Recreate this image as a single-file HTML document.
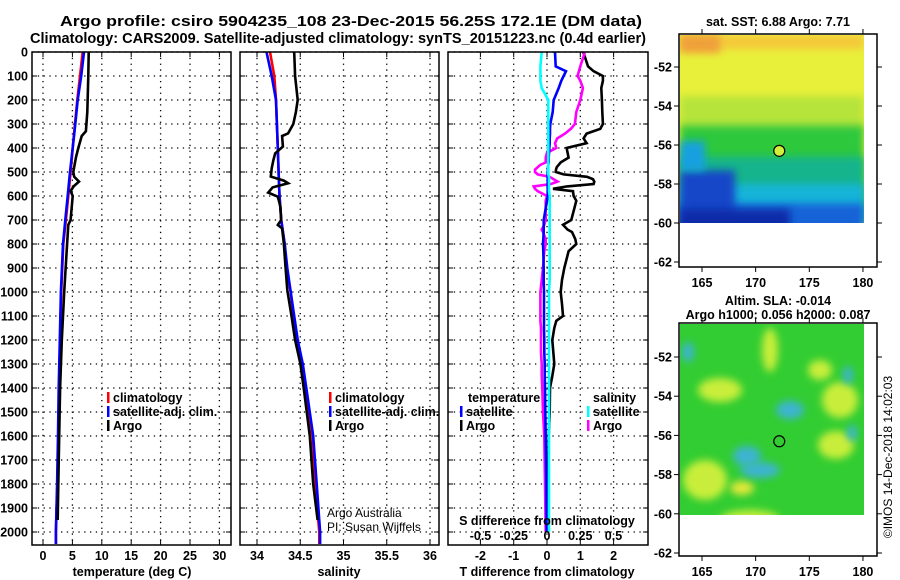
<!DOCTYPE html>
<html><head><meta charset="utf-8"><style>
body{margin:0;background:#fff;}
svg{display:block;font-family:"Liberation Sans",sans-serif;}
.b{font-weight:bold;}
</style></head><body>
<svg id="c" width="900" height="580" viewBox="0 0 900 580" xmlns="http://www.w3.org/2000/svg">
<defs>
<filter id="bl" x="-50%" y="-50%" width="200%" height="200%"><feGaussianBlur stdDeviation="4"/></filter>
<clipPath id="m1c"><rect x="680" y="35" width="184" height="188"/></clipPath>
<clipPath id="m2c"><rect x="680" y="324" width="184" height="191"/></clipPath>
</defs>
<text class="b" x="60" y="26" font-size="15" textLength="582" lengthAdjust="spacingAndGlyphs">Argo profile: csiro 5904235_108 23-Dec-2015 56.25S 172.1E (DM data)</text>
<text class="b" x="30" y="43" font-size="14.5" textLength="616" lengthAdjust="spacingAndGlyphs">Climatology: CARS2009. Satellite-adjusted climatology: synTS_20151223.nc (0.4d earlier)</text>
<g id="plots"></g>
</svg>
<script>
// depth axis
const depthTicks=[0,100,200,300,400,500,600,700,800,900,1000,1100,1200,1300,1400,1500,1600,1700,1800,1900,2000];
// temperature panel
const tTicks=[0,5,10,15,20,25,30];
const climDepth=[0,100,200,300,400,500,600,700,800,1000,1200,1400,1600,1800,2000,2050];
const climT=[6.75,6.3,5.84,5.44,5.05,4.7,4.3,3.9,3.45,3.1,2.9,2.75,2.6,2.45,2.2,2.2];
const satT=[6.97,6.5,5.9,5.5,5.05,4.6,4.2,3.8,3.4,3.05,2.85,2.67,2.55,2.4,2.2,2.2];
const argoDepth=[0,100,250,330,350,400,440,500,520,540,560,580,600,700,720,800,1000,1200,1400,1600,1800,1950];
const argoT=[7.77,7.7,7.53,7.3,6.58,6.0,5.6,5.16,5.3,6.12,5.2,4.7,5.05,4.7,4.3,4.1,3.6,3.2,2.9,2.75,2.6,2.5];
// salinity panel
const sTicks=[34,34.5,35,35.5,36];
const sTickLabels=["34","34.5","35","35.5","36"];
const climDepthS=[0,100,200,300,400,500,600,700,800,900,1000,1100,1200,1300,1400,1600,1800,2000,2050];
const climS=[34.15,34.2,34.22,34.23,34.24,34.25,34.26,34.28,34.32,34.34,34.39,34.42,34.46,34.52,34.56,34.64,34.67,34.72,34.72];
const satS=[34.11,34.17,34.22,34.23,34.24,34.25,34.26,34.28,34.32,34.35,34.39,34.43,34.47,34.53,34.57,34.65,34.69,34.73,34.73];
const argoDepthS=[0,100,200,250,300,339,350,394,422,450,485,519,536,547,564,586,603,644,700,721,735,797,894,992,1103,1200,1297,1400,1600,1800,1950];
const argoS=[34.43,34.44,34.47,34.45,34.42,34.36,34.29,34.3,34.21,34.19,34.17,34.16,34.31,34.36,34.18,34.13,34.24,34.27,34.28,34.24,34.29,34.31,34.33,34.35,34.4,34.44,34.5,34.54,34.61,34.65,34.7];
// difference panel
const dTicks=[-2,-1,0,1,2];
const dSTicks=[-0.5,-0.25,0,0.25,0.5];
const dSTickLabels=["-0.5","-0.25","0","0.25","0.5"];
const diffDepth=[0,60,80,100,120,150,200,250,300,320,340,360,380,400,420,440,460,470,480,490,500,510,520,530,540,550,560,570,580,600,620,700,720,740,750,780,800,830,900,950,1000,1050,1100,1120,1150,1200,1250,1300,1350,1400,1500,1600,1800,2000];
const argoDT=[1.09,1.23,1.4,1.68,1.68,1.63,1.65,1.66,1.68,1.6,1.19,1.1,1.19,0.59,0.62,0.65,0.41,0.35,0.29,0.27,0.26,0.5,1.2,1.38,1.42,1.4,0.6,0.18,0.78,0.8,0.88,0.73,0.48,0.62,0.75,0.85,0.88,0.65,0.52,0.45,0.41,0.45,0.48,0.28,0.22,0.16,0.19,0.22,0.16,0.09,0.08,0.05,0.03,0.02];
const satDT=[0.24,0.26,0.57,0.5,0.43,0.35,0.2,0.17,0.1,0.09,0.09,0.08,0.08,0.07,0.06,0.05,0.05,0.04,0.03,0.03,0.02,0.02,0.02,0.02,0.02,0.02,0.02,0.02,0.02,0.02,0.0,-0.1,-0.1,-0.1,-0.1,-0.11,-0.12,-0.11,-0.1,-0.1,-0.09,-0.09,-0.09,-0.09,-0.09,-0.08,-0.08,-0.07,-0.07,-0.06,-0.05,-0.04,-0.02,-0.01];
const argoDS=[0.285,0.25,0.24,0.23,0.25,0.27,0.25,0.22,0.21,0.18,0.135,0.077,0.06,0.07,0.0,-0.01,-0.01,-0.05,-0.07,-0.09,-0.09,-0.07,0.02,0.05,0.08,0.03,-0.1,-0.09,-0.07,0.0,-0.01,-0.01,-0.02,-0.04,-0.03,-0.01,-0.01,-0.02,-0.03,-0.04,-0.05,-0.05,-0.05,-0.05,-0.045,-0.045,-0.045,-0.04,-0.04,-0.035,-0.03,-0.02,-0.015,-0.01];
const satDS=[-0.04,-0.05,-0.05,-0.05,-0.05,-0.04,0.01,0.01,0.01,0.01,0.01,0.01,0.01,0.01,0.01,0.01,0.01,0.01,0.01,0.01,0.01,0.01,0.015,0.015,0.015,0.015,0.015,0.015,0.015,0.02,0.02,0.02,0.02,0.02,0.02,0.02,0.02,0.02,0.02,0.02,0.015,0.015,0.015,0.015,0.015,0.015,0.015,0.015,0.015,0.015,0.015,0.015,0.015,0.015];
// maps
const lonTicks=[165,170,175,180];
const latTicks=[-52,-54,-56,-58,-60,-62];
const floatLon=172.2, floatLat=-56.3;

const NS="http://www.w3.org/2000/svg";
const root=document.getElementById('plots');
function mk(tag,attrs,parent){const e=document.createElementNS(NS,tag);for(const k in attrs)e.setAttribute(k,attrs[k]);(parent||root).appendChild(e);return e;}
function txt(s,x,y,size,anchor,bold,parent){const t=mk('text',{x:x,y:y,'font-size':size,'text-anchor':anchor||'start'},parent);if(bold!==false)t.setAttribute('font-weight','bold');t.textContent=s;return t;}
const Y=d=>52+0.24*d;
const TOP=52,BOT=545;
function panel(x0,x1,name){
  const g=mk('g',{});
  
  
  return g;
}
function frame(g,x0,x1){mk('rect',{x:x0,y:TOP,width:x1-x0,height:BOT-TOP,fill:'none',stroke:'#000','stroke-width':1.5},g);}
function hgrid(g,x0,x1){depthTicks.forEach(d=>{mk('line',{x1:x0,x2:x1,y1:Y(d),y2:Y(d),stroke:'#000','stroke-dasharray':'1.3,4.5','stroke-width':1.3},g);mk('line',{x1:x0,x2:x0+5,y1:Y(d),y2:Y(d),stroke:'#000'},g);mk('line',{x1:x1-5,x2:x1,y1:Y(d),y2:Y(d),stroke:'#000'},g);});}
function vgrid(g,xs){xs.forEach(x=>{mk('line',{x1:x,x2:x,y1:TOP,y2:BOT,stroke:'#000','stroke-dasharray':'1.3,4.5','stroke-width':1.3},g);mk('line',{x1:x,x2:x,y1:BOT-5,y2:BOT,stroke:'#000'},g);mk('line',{x1:x,x2:x,y1:TOP,y2:TOP+5,stroke:'#000'},g);});}
function line(g,xs,ds,fx,color,name){const p=mk('polyline',{points:xs.map((v,i)=>fx(v).toFixed(1)+','+Y(ds[i]).toFixed(1)).join(' '),fill:'none',stroke:color,'stroke-width':2.6,'stroke-linejoin':'miter'},g);}
function legend(g,x,y,color,label,name){const l=mk('g',{},g);mk('rect',{x:x,y:y-10,width:2.5,height:11,fill:color},l);txt(label,x+6,y,12.5,'start',true,l);}

// Panel 1: temperature
const fT=v=>43+5.88*v;
let g=panel(32,231,'temperature-panel');
hgrid(g,32,231);vgrid(g,tTicks.map(fT));
line(g,climT,climDepth,fT,'#ff0000','climatology-temperature-line');
line(g,satT,climDepth,fT,'#0000ff','satellite-temperature-line');
line(g,argoT,argoDepth,fT,'#000','argo-temperature-line');
frame(g,32,231);
depthTicks.forEach(d=>txt(String(d),28,Y(d)+4.5,12.5,'end',true,g));
tTicks.forEach(v=>txt(String(v),fT(v),560,12.5,'middle',true,g));
txt('temperature (deg C)',132,576,12.5,'middle',true,g);
legend(g,107,402,'#ff0000','climatology','legend-climatology');
legend(g,107,416,'#0000ff','satellite-adj. clim.','legend-satellite');
legend(g,107,430,'#000','Argo','legend-argo');

// Panel 2: salinity
const fS=v=>257+86.5*(v-34);
g=panel(240,439,'salinity-panel');
hgrid(g,240,439);vgrid(g,sTicks.map(fS));
line(g,climS,climDepthS,fS,'#ff0000','climatology-salinity-line');
line(g,satS,climDepthS,fS,'#0000ff','satellite-salinity-line');
line(g,argoS,argoDepthS,fS,'#000','argo-salinity-line');
frame(g,240,439);
sTicks.forEach((v,i)=>txt(sTickLabels[i],fS(v),560,12.5,'middle',true,g));
txt('salinity',339,576,12.5,'middle',true,g);
legend(g,329,402,'#ff0000','climatology','legend-climatology-s');
legend(g,329,416,'#0000ff','satellite-adj. clim.','legend-satellite-s');
legend(g,329,430,'#000','Argo','legend-argo-s');
txt('Argo Australia',327,517,12,'start',false,g);
txt('PI: Susan Wijffels',327,531,12,'start',false,g);

// Panel 3: differences
const fD=v=>547+33.3*v;
const fDS=v=>547+133*v;
g=panel(448,648,'difference-panel');
hgrid(g,448,648);vgrid(g,dTicks.map(fD));
line(g,argoDT,diffDepth,fD,'#000','argo-t-diff-line');
line(g,argoDS,diffDepth,fDS,'#ff00ff','argo-s-diff-line');
line(g,satDT,diffDepth,fD,'#0000ff','satellite-t-diff-line');
line(g,satDS,diffDepth,fDS,'#00ffff','satellite-s-diff-line');
frame(g,448,648);
dTicks.forEach(v=>txt(String(v),fD(v),560,12.5,'middle',true,g));
txt('T difference from climatology',547,576,12.5,'middle',true,g);
txt('S difference from climatology',547,525,12.5,'middle',true,g);
dSTicks.forEach((v,i)=>txt(dSTickLabels[i],fDS(v),540,12.5,'middle',true,g));
txt('temperature',468,402,12.5,'start',true,g);
legend(g,460,416,'#0000ff','satellite','legend-t-satellite');
legend(g,460,430,'#000','Argo','legend-t-argo');
txt('salinity',593,402,12.5,'start',true,g);
legend(g,587,416,'#00ffff','satellite','legend-s-satellite');
legend(g,587,430,'#ff00ff','Argo','legend-s-argo');

// Maps
function mapAxes(g,top,bot,latY){
  mk('rect',{x:679,y:top,width:198,height:bot-top,fill:'none',stroke:'#000','stroke-width':1.5},g);
  const lonX=v=>702+10.73*(v-165);
  lonTicks.forEach(v=>{mk('line',{x1:lonX(v),x2:lonX(v),y1:bot,y2:bot+5,stroke:'#000'},g);mk('line',{x1:lonX(v),x2:lonX(v),y1:top-5,y2:top,stroke:'#000'},g);txt(String(v),lonX(v),bot+20,12.5,'middle',true,g);});
  latTicks.forEach(v=>{const y=latY(v);mk('line',{x1:674,x2:679,y1:y,y2:y,stroke:'#000'},g);mk('line',{x1:877,x2:882,y1:y,y2:y,stroke:'#000'},g);txt(String(v),672,y+4.5,12.5,'end',true,g);});
}
const lonX=v=>702+10.73*(v-165);
// Map 1 SST
const lat1=v=>67+19.5*(-52-v);
g=panel(679,877,'sst-map');
const c1=mk('g',{'clip-path':'url(#m1c)'},g);
mk('rect',{x:680,y:35,width:184,height:188,fill:'#e8f03a'},c1);
mk('rect',{x:680,y:35,width:184,height:14,fill:'#f5c83a',filter:'url(#bl)'},c1);
mk('rect',{x:680,y:35,width:40,height:18,fill:'#f0a03a',filter:'url(#bl)'},c1);
mk('rect',{x:680,y:lat1(-53.5),width:184,height:35,fill:'#b6e43a',filter:'url(#bl)'},c1);
mk('rect',{x:680,y:lat1(-55),width:184,height:lat1(-60)-lat1(-55),fill:'#2ec83c',filter:'url(#bl)'},c1);
mk('rect',{x:680,y:lat1(-56.6),width:184,height:lat1(-60)-lat1(-56.6),fill:'#18b48c',filter:'url(#bl)'},c1);
mk('rect',{x:680,y:lat1(-58),width:184,height:lat1(-60)-lat1(-58),fill:'#14b4d8',filter:'url(#bl)'},c1);
mk('rect',{x:680,y:lat1(-59),width:184,height:40,fill:'#1464d8',filter:'url(#bl)'},c1);
mk('rect',{x:680,y:lat1(-57.3),width:55,height:60,fill:'#1446c8',filter:'url(#bl)'},c1);
mk('rect',{x:680,y:lat1(-55.8),width:25,height:30,fill:'#14a0e0',filter:'url(#bl)'},c1);
mk('rect',{x:680,y:lat1(-59.3),width:110,height:30,fill:'#0a2ca8',filter:'url(#bl)'},c1);
mapAxes(g,34,267,lat1);
const fc1=mk('circle',{cx:lonX(floatLon),cy:lat1(floatLat),r:5.5,fill:'#d2f03a',stroke:'#000','stroke-width':1.2},g);


txt('sat. SST: 6.88 Argo: 7.71',778,26,12.5,'middle',true,g);

// Map 2 SLA
const lat2=v=>357+19.6*(-52-v);
g=panel(679,877,'sla-map');
const c2=mk('g',{'clip-path':'url(#m2c)'},g);
mk('rect',{x:680,y:324,width:184,height:191,fill:'#32cd32'},c2);
[[720,390,22,12],[836,445,18,14],[705,480,22,20],[770,350,8,22],[840,400,18,18],[820,370,12,10],[750,520,30,10]].forEach(e=>mk('ellipse',{cx:e[0],cy:e[1],rx:e[2],ry:e[3],fill:'#c8ee3a',filter:'url(#bl)'},c2));
mk('ellipse',{cx:742,cy:488,rx:12,ry:7,fill:'#e6e83a',filter:'url(#bl)'},c2);
[[790,410,14,9],[747,456,14,10],[688,352,6,10],[848,375,5,9],[852,433,5,8],[760,470,20,8]].forEach(e=>mk('ellipse',{cx:e[0],cy:e[1],rx:e[2],ry:e[3],fill:'#3cb4d2',filter:'url(#bl)'},c2));
mapAxes(g,323,556,lat2);
const fc2=mk('circle',{cx:lonX(floatLon),cy:lat2(floatLat),r:5.5,fill:'#32cd32',stroke:'#000','stroke-width':1.2},g);


txt('Altim. SLA: -0.014',778,305,12.5,'middle',true,g);
txt('Argo h1000: 0.056 h2000: 0.087',778,319,12.5,'middle',true,g);
const cr=txt('\u00a9IMOS 14-Dec-2018 14:02:03',0,0,12,'middle',false,g);
cr.setAttribute('transform','translate(892,457) rotate(-90)');


</script>
</body></html>
